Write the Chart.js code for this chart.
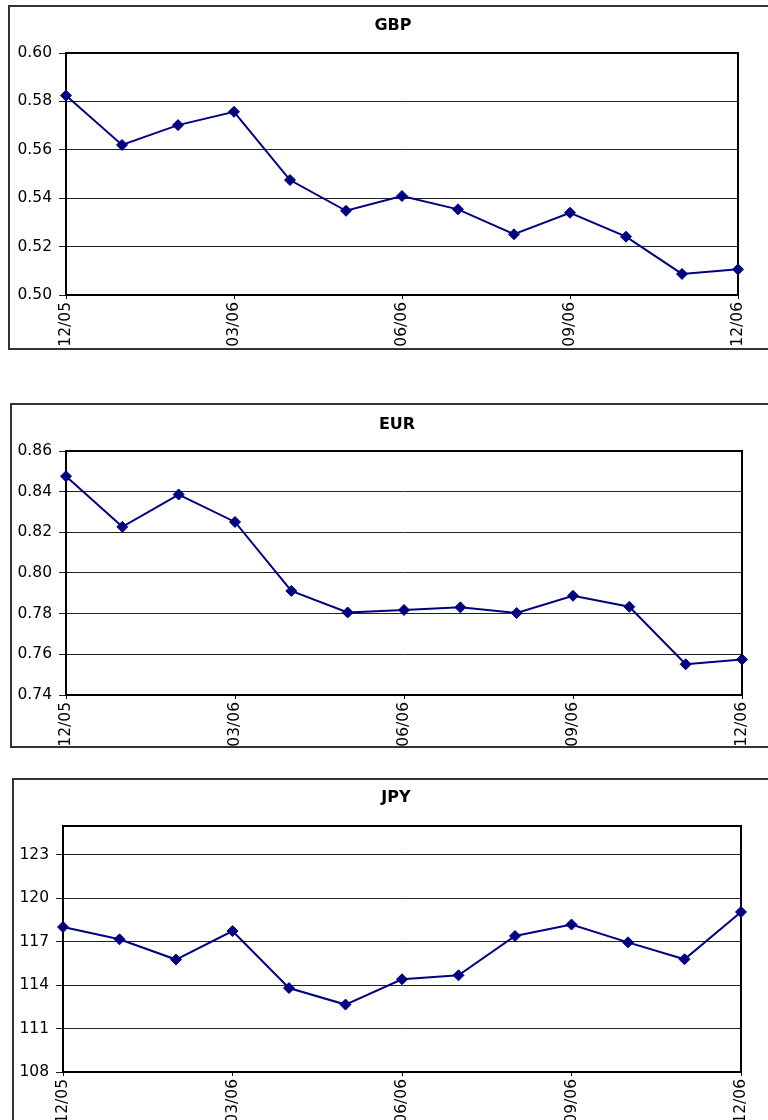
<!DOCTYPE html>
<html>
<head>
<meta charset="utf-8">
<script src="https://cdn.jsdelivr.net/npm/chart.js@4/dist/chart.umd.min.js"></script>
<style>
  html, body { margin: 0; padding: 0; background: #fff; }
  body { width: 768px; height: 1120px; position: relative; overflow: hidden; }
  canvas { position: absolute; }
  .frame { position: absolute; box-sizing: border-box; border: 2px solid #333; border-right: none; pointer-events: none; }
</style>
</head>
<body>
<canvas id="gbp"></canvas>
<canvas id="eur"></canvas>
<canvas id="jpy"></canvas>
<div class="frame" style="left:8px;top:5px;width:800px;height:345px;"></div>
<div class="frame" style="left:10px;top:403px;width:800px;height:345px;"></div>
<div class="frame" style="left:12px;top:778px;width:800px;height:400px;"></div>
<script>
// Month-end observations, Dec 2005 to Dec 2006
const months = ['12/05','01/06','02/06','03/06','04/06','05/06','06/06','07/06','08/06','09/06','10/06','11/06','12/06'];
// Quarter ends carry a label on the time axis
const labelledMonths = ['12/05','03/06','06/06','09/06','12/06'];

// Exchange rates per US dollar
const gbpRates = [0.5824, 0.5620, 0.5702, 0.5757, 0.5475, 0.5348, 0.5409, 0.5354, 0.5251, 0.5340, 0.5241, 0.5087, 0.5106];
const eurRates = [0.8476, 0.8227, 0.8386, 0.8251, 0.7912, 0.7806, 0.7818, 0.7831, 0.7803, 0.7888, 0.7834, 0.7551, 0.7575];
const jpyRates = [118.02, 117.17, 115.77, 117.74, 113.80, 112.66, 114.41, 114.68, 117.40, 118.19, 116.96, 115.79, 119.06];

// Value-axis ticks
const gbpTicks = [0.50, 0.52, 0.54, 0.56, 0.58, 0.60];
const eurTicks = [0.74, 0.76, 0.78, 0.80, 0.82, 0.84, 0.86];
const jpyTicks = [108, 111, 114, 117, 120, 123];
const jpyMax = 125;

Chart.defaults.font.family = '"DejaVu Sans", "Liberation Sans", sans-serif';
Chart.defaults.font.size = 15.5;
Chart.defaults.color = '#000';

// Bold heading over each chart
const heading = {
  id: 'heading',
  afterDraw(chart, args, opts) {
    const ctx = chart.ctx;
    ctx.save();
    ctx.font = 'bold 16px "DejaVu Sans", sans-serif';
    ctx.fillStyle = '#000';
    ctx.textAlign = 'center';
    ctx.textBaseline = 'middle';
    ctx.fillText(opts.text, opts.x, opts.y);
    ctx.restore();
  }
};

// Black frame round the plot area, under the markers
const plotFrame = {
  id: 'plotFrame',
  beforeDatasetsDraw(chart) {
    const { ctx, chartArea: a } = chart;
    ctx.save();
    ctx.strokeStyle = '#000';
    ctx.lineWidth = 2;
    ctx.strokeRect(a.left, a.top, a.right - a.left, a.bottom - a.top);
    ctx.restore();
  }
};

function makeChart(id, title, values, yTicks, yMax, digits, box, g) {
  const cv = document.getElementById(id);
  cv.width = box.w; cv.height = box.h;
  cv.style.left = box.x + 'px'; cv.style.top = box.y + 'px';
  cv.style.width = box.w + 'px'; cv.style.height = box.h + 'px';

  return new Chart(cv, {
    type: 'line',
    data: {
      labels: months,
      datasets: [{
        data: values,
        borderColor: '#000080',
        borderWidth: 2,
        backgroundColor: '#000080',
        pointStyle: 'rectRot',
        pointRadius: 5.5,
        pointBorderWidth: 1,
        pointBorderColor: '#000080',
        pointBackgroundColor: '#000080',
        tension: 0,
        clip: false
      }]
    },
    options: {
      responsive: false,
      devicePixelRatio: 1,
      animation: false,
      events: [],
      layout: { padding: { left: 0, right: g.padRight, top: g.padTop, bottom: 0 } },
      plugins: {
        legend: { display: false },
        tooltip: { enabled: false },
        heading: { text: title, x: g.titleX, y: g.titleY }
      },
      scales: {
        x: {
          type: 'category',
          offset: false,
          afterFit(s) { s.height = g.xAxisH; },
          border: { display: true, color: '#000', width: 2 },
          grid: {
            drawOnChartArea: false,
            tickLength: 4,
            color: (c) => (labelledMonths.includes(months[c.index]) ? '#000' : 'rgba(0,0,0,0)')
          },
          ticks: {
            autoSkip: false,
            minRotation: 90,
            maxRotation: 90,
            padding: 3,
            callback: (v, i) => (labelledMonths.includes(months[i]) ? months[i] : '')
          }
        },
        y: {
          min: yTicks[0],
          max: yMax,
          afterFit(s) { s.width = g.axisW; },
          afterBuildTicks(s) { s.ticks = yTicks.map(v => ({ value: v })); },
          border: { display: true, color: '#000', width: 2 },
          grid: { color: '#222', lineWidth: 1, tickLength: 7 },
          ticks: { padding: 7, callback: (v) => Number(v).toFixed(digits) }
        }
      }
    },
    plugins: [plotFrame, heading]
  });
}

makeChart('gbp', 'GBP', gbpRates, gbpTicks, gbpTicks[gbpTicks.length - 1], 2,
  { x: 9, y: 6, w: 759, h: 343 },
  { padTop: 47, padRight: 30, axisW: 57, xAxisH: 54, titleX: 384, titleY: 20 });

makeChart('eur', 'EUR', eurRates, eurTicks, eurTicks[eurTicks.length - 1], 2,
  { x: 11, y: 404, w: 757, h: 343 },
  { padTop: 47, padRight: 26, axisW: 55, xAxisH: 52, titleX: 386, titleY: 21 });

makeChart('jpy', 'JPY', jpyRates, jpyTicks, jpyMax, 0,
  { x: 13, y: 779, w: 755, h: 341 },
  { padTop: 47, padRight: 27, axisW: 50, xAxisH: 48, titleX: 383, titleY: 19 });
</script>
</body>
</html>
